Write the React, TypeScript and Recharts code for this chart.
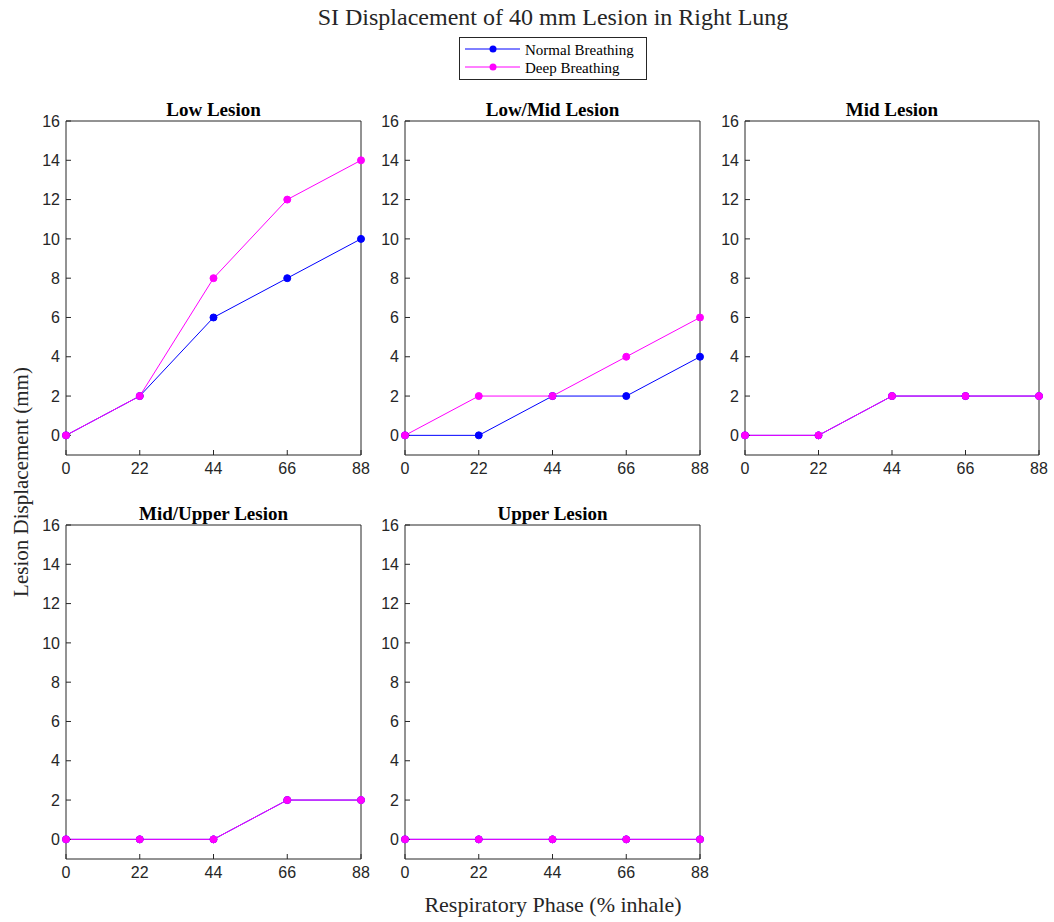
import React from "react"
import { LineChart, Line, XAxis, YAxis } from "recharts"

const phases = [0, 22, 44, 66, 88]
const yTicks = [0, 2, 4, 6, 8, 10, 12, 14, 16]

const lowNormal = [0, 2, 6, 8, 10]
const lowDeep = [0, 2, 8, 12, 14]
const lowMidNormal = [0, 0, 2, 2, 4]
const lowMidDeep = [0, 2, 2, 4, 6]
const midNormal = [0, 0, 2, 2, 2]
const midDeep = [0, 0, 2, 2, 2]
const midUpperNormal = [0, 0, 0, 2, 2]
const midUpperDeep = [0, 0, 0, 2, 2]
const upperNormal = [0, 0, 0, 0, 0]
const upperDeep = [0, 0, 0, 0, 0]

const panelTitles = ["Low Lesion", "Low/Mid Lesion", "Mid Lesion", "Mid/Upper Lesion", "Upper Lesion"]
const normalSeries = [lowNormal, lowMidNormal, midNormal, midUpperNormal, upperNormal]
const deepSeries = [lowDeep, lowMidDeep, midDeep, midUpperDeep, upperDeep]

const AXIS = "#262626"
const BLUE = "#0000ff"
const MAGENTA = "#ff00ff"
const SERIF = "'Liberation Serif', 'Times New Roman', serif"
const SANS = "'Liberation Sans', Arial, sans-serif"

// plot-area boxes in page pixels
const panels = [
  { left: 66, top: 121, w: 295, h: 334 },
  { left: 405, top: 121, w: 295, h: 334 },
  { left: 745, top: 121, w: 294, h: 334 },
  { left: 66, top: 525, w: 295, h: 334 },
  { left: 405, top: 525, w: 295, h: 334 },
]

const PAD_L = 50
const PAD_T = 40
const PAD_R = 10
const PAD_B = 40

function Panel({ idx }: { idx: number }) {
  const p = panels[idx]
  const rows = phases.map((ph, i) => ({
    phase: ph,
    normal: normalSeries[idx][i],
    deep: deepSeries[idx][i],
  }))
  const tickStyle = { fill: AXIS, fontSize: 16, fontFamily: SANS }
  return (
    <>
      <div
        style={{
          position: "absolute",
          left: p.left,
          top: p.top - 21,
          width: p.w,
          textAlign: "center",
          fontFamily: SERIF,
          fontWeight: "bold",
          fontSize: 19,
          lineHeight: "19px",
          color: "#000",
          whiteSpace: "nowrap",
        }}
      >
        {panelTitles[idx]}
      </div>
      <div style={{ position: "absolute", left: p.left - PAD_L, top: p.top - PAD_T }}>
        <LineChart
          width={PAD_L + p.w + PAD_R}
          height={PAD_T + p.h + PAD_B}
          data={rows}
          margin={{ top: PAD_T, right: PAD_R, bottom: 0, left: 0 }}
        >
          <XAxis
            dataKey="phase"
            type="number"
            domain={[0, 88]}
            ticks={phases}
            interval={0}
            height={PAD_B}
            stroke={AXIS}
            tickSize={-5}
            tickMargin={13}
            tick={tickStyle}
          />
          <XAxis
            xAxisId="top"
            orientation="top"
            mirror
            dataKey="phase"
            type="number"
            domain={[0, 88]}
            ticks={phases}
            interval={0}
            stroke={AXIS}
            tickSize={5}
            tick={false}
          />
          <YAxis
            type="number"
            domain={[-1, 16]}
            ticks={yTicks}
            interval={0}
            width={PAD_L}
            stroke={AXIS}
            tickSize={-5}
            tickMargin={11}
            tick={tickStyle}
          />
          <YAxis
            yAxisId="right"
            orientation="right"
            mirror
            type="number"
            domain={[-1, 16]}
            ticks={yTicks}
            interval={0}
            stroke={AXIS}
            tickSize={5}
            tick={false}
          />
          <Line
            dataKey="normal"
            stroke={BLUE}
            strokeWidth={1}
            dot={{ r: 3.5, fill: BLUE, stroke: BLUE, strokeWidth: 1 }}
            activeDot={false}
            isAnimationActive={false}
          />
          <Line
            dataKey="deep"
            stroke={MAGENTA}
            strokeWidth={1}
            dot={{ r: 3.5, fill: MAGENTA, stroke: MAGENTA, strokeWidth: 1 }}
            activeDot={false}
            isAnimationActive={false}
          />
        </LineChart>
      </div>
    </>
  )
}

function LegendBox() {
  const items = [
    { label: "Normal Breathing", color: BLUE, y: 12 },
    { label: "Deep Breathing", color: MAGENTA, y: 30 },
  ]
  return (
    <svg
      width={188}
      height={43}
      style={{ position: "absolute", left: 459, top: 37 }}
    >
      <rect x={0.5} y={0.5} width={187} height={42} fill="#fff" stroke={AXIS} strokeWidth={1} />
      {items.map((it) => (
        <g key={it.label}>
          <line x1={6} x2={61} y1={it.y} y2={it.y} stroke={it.color} strokeWidth={1} />
          <circle cx={34} cy={it.y} r={3.5} fill={it.color} />
          <text x={66} y={it.y + 5.5} fontFamily={SERIF} fontSize={15} fill="#000">
            {it.label}
          </text>
        </g>
      ))}
    </svg>
  )
}

export default function App() {
  return (
    <div
      style={{
        position: "absolute",
        left: 0,
        top: 0,
        width: 1054,
        height: 922,
        background: "#fff",
        overflow: "hidden",
      }}
    >
      <div
        style={{
          position: "absolute",
          left: 66,
          top: 5,
          width: 974,
          textAlign: "center",
          fontFamily: SERIF,
          fontSize: 24,
          lineHeight: "24px",
          color: "#262626",
          whiteSpace: "nowrap",
        }}
      >
        SI Displacement of 40 mm Lesion in Right Lung
      </div>
      <LegendBox />
      {panels.map((_, i) => (
        <Panel key={i} idx={i} />
      ))}
      <div
        style={{
          position: "absolute",
          left: 66,
          top: 894,
          width: 974,
          textAlign: "center",
          fontFamily: SERIF,
          fontSize: 22,
          lineHeight: "22px",
          color: "#262626",
          whiteSpace: "nowrap",
        }}
      >
        Respiratory Phase (% inhale)
      </div>
      <div
        style={{
          position: "absolute",
          left: 21 - 150,
          top: 482 - 11,
          width: 300,
          textAlign: "center",
          fontFamily: SERIF,
          fontSize: 21,
          lineHeight: "22px",
          color: "#262626",
          whiteSpace: "nowrap",
          transform: "rotate(-90deg)",
        }}
      >
        Lesion Displacement (mm)
      </div>
    </div>
  )
}
